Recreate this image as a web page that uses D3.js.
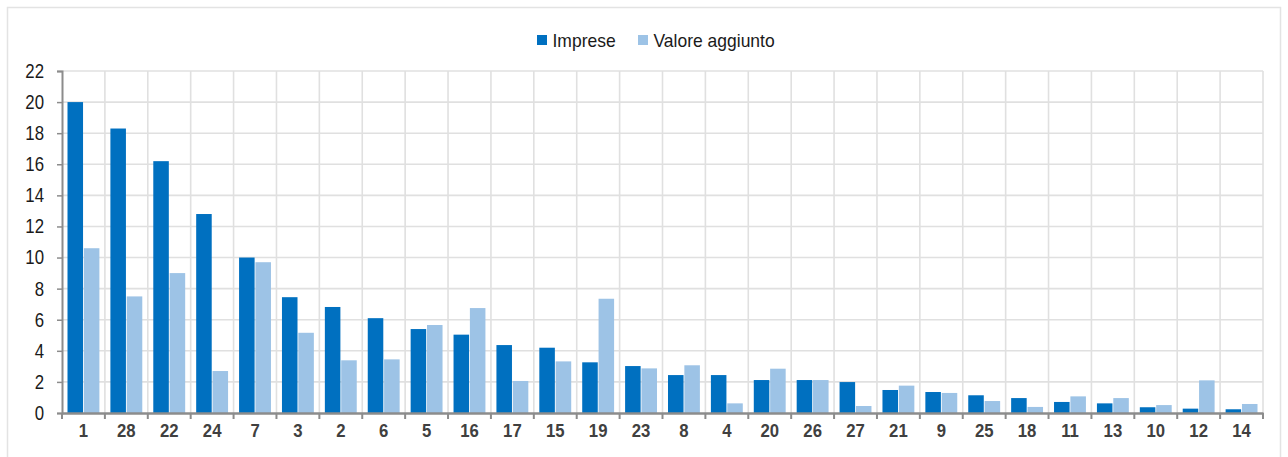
<!DOCTYPE html>
<html><head><meta charset="utf-8">
<script src="https://cdn.jsdelivr.net/npm/d3@7"></script>
<style>
html,body{margin:0;padding:0;background:#fff;}
svg{display:block;}
</style></head>
<body>
<svg id="chart" width="1288" height="457"></svg>
<script>
const categories = ["1","28","22","24","7","3","2","6","5","16","17","15","19","23","8","4","20","26","27","21","9","25","18","11","13","10","12","14"];
const imprese = [20.0,18.3,16.2,12.8,10.0,7.45,6.82,6.1,5.4,5.04,4.37,4.2,3.26,3.02,2.44,2.44,2.12,2.12,1.99,1.48,1.35,1.14,0.96,0.71,0.62,0.37,0.28,0.24];
const valoreAggiunto = [10.6,7.5,9.0,2.7,9.7,5.16,3.39,3.45,5.66,6.75,2.06,3.32,7.35,2.87,3.07,0.62,2.85,2.12,0.45,1.76,1.29,0.77,0.39,1.07,0.96,0.51,2.1,0.58];
const yTicks = [0,2,4,6,8,10,12,14,16,18,20,22];
const seriesNames = ["Imprese","Valore aggiunto"];
const colors = ["#0070C0","#9DC3E6"];

(function(){
const svg = d3.select("#chart");
const font = "'Liberation Sans Narrow','Arial Narrow','Liberation Sans',Arial,sans-serif";
const mLeft = 62, mRight = 1263, mTop = 71, mBottom = 413;

// compress text horizontally to mimic a narrow face
function narrow(sel, k){
  sel.each(function(){
    const w = this.getComputedTextLength();
    d3.select(this).attr("textLength", w*k).attr("lengthAdjust","spacingAndGlyphs");
  });
}

// outer frame
svg.append("rect").attr("x",7.5).attr("y",7.5).attr("width",1273).attr("height",470)
  .attr("fill","none").attr("stroke","#E3E3E3").attr("stroke-width",1.5);

const x = d3.scaleBand().domain(categories).range([mLeft,mRight]).paddingInner(0).paddingOuter(0);
const y = d3.scaleLinear().domain([0,22]).range([mBottom,mTop]);
const bx = i => i < categories.length ? x(categories[i]) : mRight;

// horizontal grid
svg.append("g").selectAll("line").data(yTicks.filter(t=>t>0)).join("line")
  .attr("x1",mLeft).attr("x2",mRight).attr("y1",d=>y(d)).attr("y2",d=>y(d))
  .attr("stroke","#E0E0E0").attr("stroke-width",1.6);
// vertical grid
svg.append("g").selectAll("line").data(d3.range(1,categories.length+1)).join("line")
  .attr("x1",bx).attr("x2",bx).attr("y1",mTop).attr("y2",mBottom)
  .attr("stroke","#E0E0E0").attr("stroke-width",1.6);

// bars
const x1 = d3.scaleBand().domain(seriesNames).range([5.5,x.bandwidth()-5.5]).paddingOuter(0).paddingInner(0.05);
const data = categories.map((c,i)=>({c, vals:[imprese[i], valoreAggiunto[i]]}));
const groups = svg.append("g").selectAll("g").data(data).join("g")
  .attr("transform",d=>`translate(${x(d.c)},0)`);
groups.selectAll("rect").data(d=>d.vals.map((v,k)=>({v,k}))).join("rect")
  .attr("x",d=>x1(seriesNames[d.k])).attr("width",x1.bandwidth())
  .attr("y",d=>y(d.v)).attr("height",d=>mBottom-y(d.v))
  .attr("fill",d=>colors[d.k]);

// y axis
const yAxis = svg.append("g").attr("transform",`translate(${mLeft},0)`)
  .call(d3.axisLeft(y).tickValues(yTicks).tickSize(5).tickPadding(13).tickFormat(d3.format("d")));
yAxis.select(".domain").attr("stroke","#8C8C8C").attr("stroke-width",2);
yAxis.selectAll(".tick line").attr("stroke","#8C8C8C").attr("stroke-width",1.5);
yAxis.selectAll("text").attr("font-family",font).attr("font-size",20).attr("fill","#1a1a1a").call(narrow,0.84);

// x axis
const xAxis = svg.append("g").attr("transform",`translate(0,${mBottom})`)
  .call(d3.axisBottom(x).tickSize(0).tickPadding(11));
xAxis.select(".domain").attr("stroke","#8C8C8C").attr("stroke-width",2.5);
xAxis.selectAll("text").attr("font-family",font).attr("font-size",19).attr("font-weight","bold").attr("fill","#404040").call(narrow,0.88);
// boundary tick marks
svg.append("g").selectAll("line").data(d3.range(categories.length+1)).join("line")
  .attr("x1",bx).attr("x2",bx).attr("y1",mBottom).attr("y2",mBottom+6)
  .attr("stroke","#8C8C8C").attr("stroke-width",2);

// legend
const legend = svg.append("g");
const legendItems = [{name:seriesNames[0], x:537},{name:seriesNames[1], x:638}];
legendItems.forEach((it,k)=>{
  legend.append("rect").attr("x",it.x).attr("y",35).attr("width",10).attr("height",10).attr("fill",colors[k]);
  legend.append("text").attr("x",it.x+15.5).attr("y",47).attr("font-family",font).attr("font-size",19)
    .attr("fill","#1a1a1a").text(it.name).call(narrow,0.92);
});
})();
</script>
</body></html>
